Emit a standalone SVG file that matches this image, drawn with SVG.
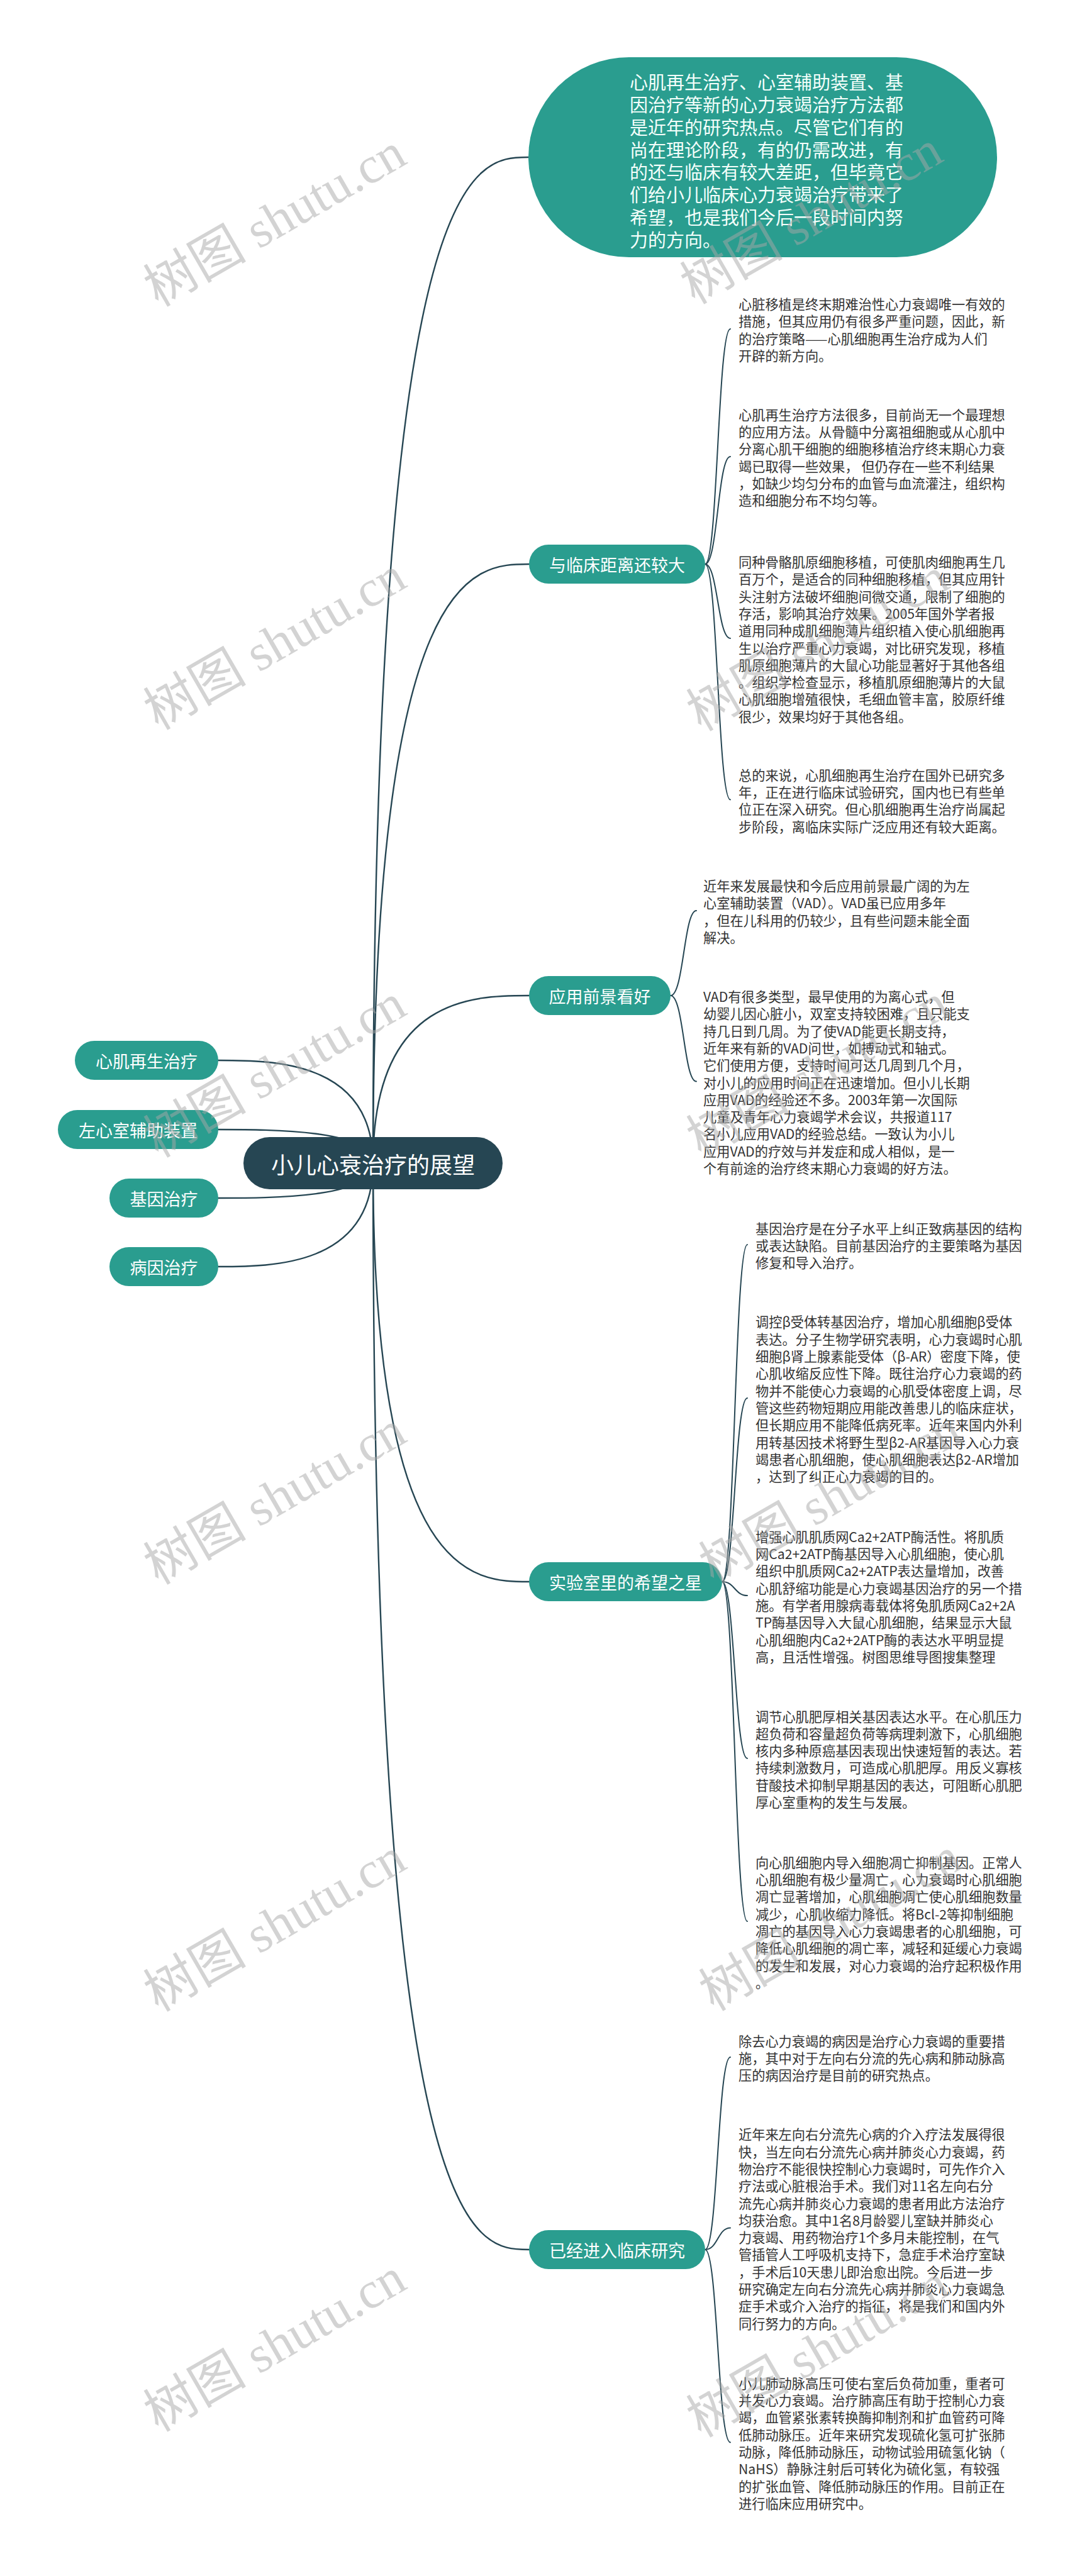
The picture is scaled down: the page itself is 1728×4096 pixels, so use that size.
<svg xmlns="http://www.w3.org/2000/svg" width="1728" height="4096" viewBox="0 0 1728 4096">
<style>
.conn{fill:none;stroke:#264653;stroke-width:2.4;stroke-linecap:round}
.br{fill:none;stroke:#264653;stroke-width:2;stroke-linecap:round}
.teal{fill:#2a9d8f}
.root{fill:#264653}
.lbl{font-family:"Noto Sans CJK SC","Noto Sans",sans-serif;font-size:27px;fill:#ffffff;text-anchor:middle;dominant-baseline:central}
.rlbl{font-family:"Noto Sans CJK SC","Noto Sans",sans-serif;font-size:36px;fill:#ffffff;text-anchor:middle;dominant-baseline:central}
.bub{font-family:"Noto Sans CJK SC","Noto Sans",sans-serif;font-size:29px;fill:#f4fffb;dominant-baseline:central}
.leaf{font-family:"Noto Sans CJK SC","Noto Sans",sans-serif;font-size:21.2px;fill:#333333;dominant-baseline:central}
.wm{font-family:"Liberation Serif","Noto Sans CJK SC",serif;font-size:82px;fill:#a8a8a8;opacity:0.5;text-anchor:middle;dominant-baseline:central}
</style>
<rect width="1728" height="4096" fill="#ffffff"/>
<g id="connectors">
<path class="conn" d="M593 1850 C593 250 754 250 840 250"/>
<path class="conn" d="M593 1850 C593 897 754 897 841 897"/>
<path class="conn" d="M593 1850 C593 1583 754 1583 841 1583"/>
<path class="conn" d="M593 1850 C593 2515 754 2515 841 2515"/>
<path class="conn" d="M593 1850 C593 3577 754 3577 841 3577"/>
<path class="conn" d="M593 1850 C593 1686 433 1686 347 1686"/>
<path class="conn" d="M593 1850 C593 1796 433 1796 347 1796"/>
<path class="conn" d="M593 1850 C593 1905 433 1905 347 1905"/>
<path class="conn" d="M593 1850 C593 2014 433 2014 347 2014"/>
<path class="br" d="M1121 897 C1141 897 1141 523 1161 523"/>
<path class="br" d="M1121 897 C1141 897 1141 726 1161 726"/>
<path class="br" d="M1121 897 C1141 897 1141 1015 1161 1015"/>
<path class="br" d="M1121 897 C1141 897 1141 1271.5 1161 1271.5"/>
<path class="br" d="M1066 1583 C1087 1583 1087 1448 1107 1448"/>
<path class="br" d="M1066 1583 C1087 1583 1087 1719.5 1107 1719.5"/>
<path class="br" d="M1148 2515 C1168 2515 1168 1979 1188 1979"/>
<path class="br" d="M1148 2515 C1168 2515 1168 2223 1188 2223"/>
<path class="br" d="M1148 2515 C1168 2515 1168 2537 1188 2537"/>
<path class="br" d="M1148 2515 C1168 2515 1168 2796 1188 2796"/>
<path class="br" d="M1148 2515 C1168 2515 1168 3055 1188 3055"/>
<path class="br" d="M1121 3577 C1141 3577 1141 3271 1161 3271"/>
<path class="br" d="M1121 3577 C1141 3577 1141 3542.5 1161 3542.5"/>
<path class="br" d="M1121 3577 C1141 3577 1141 3883.4 1161 3883.4"/>
</g>
<g id="node-root">
<rect class="root" x="387" y="1808" width="412" height="83" rx="41.5"/>
<text class="rlbl" x="593" y="1849.5">小儿心衰治疗的展望</text>
</g>
<g id="node-summary">
<rect class="teal" x="840" y="91" width="745" height="318" rx="160" ry="159"/>
<text class="bub" x="1001" y="129"><tspan x="1001" y="129">心肌再生治疗、心室辅助装置、基</tspan><tspan x="1001" dy="35.85">因治疗等新的心力衰竭治疗方法都</tspan><tspan x="1001" dy="35.85">是近年的研究热点。尽管它们有的</tspan><tspan x="1001" dy="35.85">尚在理论阶段，有的仍需改进，有</tspan><tspan x="1001" dy="35.85">的还与临床有较大差距，但毕竟它</tspan><tspan x="1001" dy="35.85">们给小儿临床心力衰竭治疗带来了</tspan><tspan x="1001" dy="35.85">希望，也是我们今后一段时间内努</tspan><tspan x="1001" dy="35.85">力的方向。</tspan></text>
</g>
<g id="node-left-1">
<rect class="teal" x="119" y="1655" width="228" height="62" rx="31"/>
<text class="lbl" x="233" y="1686">心肌再生治疗</text>
</g>
<g id="node-left-2">
<rect class="teal" x="92" y="1765" width="255" height="62" rx="31"/>
<text class="lbl" x="219.5" y="1796">左心室辅助装置</text>
</g>
<g id="node-left-3">
<rect class="teal" x="174" y="1874" width="173" height="62" rx="31"/>
<text class="lbl" x="260.5" y="1905">基因治疗</text>
</g>
<g id="node-left-4">
<rect class="teal" x="174" y="1983" width="173" height="62" rx="31"/>
<text class="lbl" x="260.5" y="2014">病因治疗</text>
</g>
<g id="node-a">
<rect class="teal" x="841" y="866" width="280" height="62" rx="31"/>
<text class="lbl" x="981" y="897">与临床距离还较大</text>
</g>
<g id="node-b">
<rect class="teal" x="841" y="1552" width="225" height="62" rx="31"/>
<text class="lbl" x="953.5" y="1583">应用前景看好</text>
</g>
<g id="node-c">
<rect class="teal" x="841" y="2484" width="307" height="62" rx="31"/>
<text class="lbl" x="994.5" y="2515">实验室里的希望之星</text>
</g>
<g id="node-d">
<rect class="teal" x="841" y="3546" width="280" height="62" rx="31"/>
<text class="lbl" x="981" y="3577">已经进入临床研究</text>
</g>
<g id="leaf-a1"><text class="leaf" x="1174" y="482.1"><tspan x="1174" y="482.1">心脏移植是终末期难治性心力衰竭唯一有效的</tspan><tspan x="1174" dy="27.3">措施，但其应用仍有很多严重问题，因此，新</tspan><tspan x="1174" dy="27.3">的治疗策略——心肌细胞再生治疗成为人们</tspan><tspan x="1174" dy="27.3">开辟的新方向。</tspan></text></g>
<g id="leaf-a2"><text class="leaf" x="1174" y="657.7"><tspan x="1174" y="657.7">心肌再生治疗方法很多，目前尚无一个最理想</tspan><tspan x="1174" dy="27.3">的应用方法。从骨髓中分离祖细胞或从心肌中</tspan><tspan x="1174" dy="27.3">分离心肌干细胞的细胞移植治疗终末期心力衰</tspan><tspan x="1174" dy="27.3">竭已取得一些效果， 但仍存在一些不利结果</tspan><tspan x="1174" dy="27.3">，如缺少均匀分布的血管与血流灌注，组织构</tspan><tspan x="1174" dy="27.3">造和细胞分布不均匀等。</tspan></text></g>
<g id="leaf-a3"><text class="leaf" x="1174" y="892"><tspan x="1174" y="892">同种骨骼肌原细胞移植，可使肌肉细胞再生几</tspan><tspan x="1174" dy="27.3">百万个，是适合的同种细胞移植，但其应用针</tspan><tspan x="1174" dy="27.3">头注射方法破坏细胞间微交通，限制了细胞的</tspan><tspan x="1174" dy="27.3">存活，影响其治疗效果。2005年国外学者报</tspan><tspan x="1174" dy="27.3">道用同种成肌细胞薄片组织植入使心肌细胞再</tspan><tspan x="1174" dy="27.3">生以治疗严重心力衰竭，对比研究发现，移植</tspan><tspan x="1174" dy="27.3">肌原细胞薄片的大鼠心功能显著好于其他各组</tspan><tspan x="1174" dy="27.3">。组织学检查显示，移植肌原细胞薄片的大鼠</tspan><tspan x="1174" dy="27.3">心肌细胞增殖很快，毛细血管丰富，胶原纤维</tspan><tspan x="1174" dy="27.3">很少，效果均好于其他各组。</tspan></text></g>
<g id="leaf-a4"><text class="leaf" x="1174" y="1230.6"><tspan x="1174" y="1230.6">总的来说，心肌细胞再生治疗在国外已研究多</tspan><tspan x="1174" dy="27.3">年，正在进行临床试验研究，国内也已有些单</tspan><tspan x="1174" dy="27.3">位正在深入研究。但心肌细胞再生治疗尚属起</tspan><tspan x="1174" dy="27.3">步阶段，离临床实际广泛应用还有较大距离。</tspan></text></g>
<g id="leaf-b1"><text class="leaf" x="1118" y="1407"><tspan x="1118" y="1407">近年来发展最快和今后应用前景最广阔的为左</tspan><tspan x="1118" dy="27.3">心室辅助装置（VAD）。VAD虽已应用多年</tspan><tspan x="1118" dy="27.3">，但在儿科用的仍较少，且有些问题未能全面</tspan><tspan x="1118" dy="27.3">解决。</tspan></text></g>
<g id="leaf-b2"><text class="leaf" x="1118" y="1583"><tspan x="1118" y="1583">VAD有很多类型，最早使用的为离心式，但</tspan><tspan x="1118" dy="27.3">幼婴儿因心脏小，双室支持较困难，且只能支</tspan><tspan x="1118" dy="27.3">持几日到几周。为了使VAD能更长期支持，</tspan><tspan x="1118" dy="27.3">近年来有新的VAD问世，如搏动式和轴式。</tspan><tspan x="1118" dy="27.3">它们使用方便，支持时间可达几周到几个月，</tspan><tspan x="1118" dy="27.3">对小儿的应用时间正在迅速增加。但小儿长期</tspan><tspan x="1118" dy="27.3">应用VAD的经验还不多。2003年第一次国际</tspan><tspan x="1118" dy="27.3">儿童及青年心力衰竭学术会议，共报道117</tspan><tspan x="1118" dy="27.3">名小儿应用VAD的经验总结。一致认为小儿</tspan><tspan x="1118" dy="27.3">应用VAD的疗效与并发症和成人相似，是一</tspan><tspan x="1118" dy="27.3">个有前途的治疗终末期心力衰竭的好方法。</tspan></text></g>
<g id="leaf-c1"><text class="leaf" x="1201" y="1951.6"><tspan x="1201" y="1951.6">基因治疗是在分子水平上纠正致病基因的结构</tspan><tspan x="1201" dy="27.3">或表达缺陷。目前基因治疗的主要策略为基因</tspan><tspan x="1201" dy="27.3">修复和导入治疗。</tspan></text></g>
<g id="leaf-c2"><text class="leaf" x="1201" y="2100.4"><tspan x="1201" y="2100.4">调控β受体转基因治疗，增加心肌细胞β受体</tspan><tspan x="1201" dy="27.3">表达。分子生物学研究表明，心力衰竭时心肌</tspan><tspan x="1201" dy="27.3">细胞β肾上腺素能受体（β-AR）密度下降，使</tspan><tspan x="1201" dy="27.3">心肌收缩反应性下降。既往治疗心力衰竭的药</tspan><tspan x="1201" dy="27.3">物并不能使心力衰竭的心肌受体密度上调，尽</tspan><tspan x="1201" dy="27.3">管这些药物短期应用能改善患儿的临床症状，</tspan><tspan x="1201" dy="27.3">但长期应用不能降低病死率。近年来国内外利</tspan><tspan x="1201" dy="27.3">用转基因技术将野生型β2-AR基因导入心力衰</tspan><tspan x="1201" dy="27.3">竭患者心肌细胞，使心肌细胞表达β2-AR增加</tspan><tspan x="1201" dy="27.3">，达到了纠正心力衰竭的目的。</tspan></text></g>
<g id="leaf-c3"><text class="leaf" x="1201" y="2441.8"><tspan x="1201" y="2441.8">增强心肌肌质网Ca2+2ATP酶活性。将肌质</tspan><tspan x="1201" dy="27.3">网Ca2+2ATP酶基因导入心肌细胞，使心肌</tspan><tspan x="1201" dy="27.3">组织中肌质网Ca2+2ATP表达量增加，改善</tspan><tspan x="1201" dy="27.3">心肌舒缩功能是心力衰竭基因治疗的另一个措</tspan><tspan x="1201" dy="27.3">施。有学者用腺病毒载体将兔肌质网Ca2+2A</tspan><tspan x="1201" dy="27.3">TP酶基因导入大鼠心肌细胞，结果显示大鼠</tspan><tspan x="1201" dy="27.3">心肌细胞内Ca2+2ATP酶的表达水平明显提</tspan><tspan x="1201" dy="27.3">高，且活性增强。树图思维导图搜集整理</tspan></text></g>
<g id="leaf-c4"><text class="leaf" x="1201" y="2727.5"><tspan x="1201" y="2727.5">调节心肌肥厚相关基因表达水平。在心肌压力</tspan><tspan x="1201" dy="27.3">超负荷和容量超负荷等病理刺激下，心肌细胞</tspan><tspan x="1201" dy="27.3">核内多种原癌基因表现出快速短暂的表达。若</tspan><tspan x="1201" dy="27.3">持续刺激数月，可造成心肌肥厚。用反义寡核</tspan><tspan x="1201" dy="27.3">苷酸技术抑制早期基因的表达，可阻断心肌肥</tspan><tspan x="1201" dy="27.3">厚心室重构的发生与发展。</tspan></text></g>
<g id="leaf-c5"><text class="leaf" x="1201" y="2959.7"><tspan x="1201" y="2959.7">向心肌细胞内导入细胞凋亡抑制基因。正常人</tspan><tspan x="1201" dy="27.3">心肌细胞有极少量凋亡，心力衰竭时心肌细胞</tspan><tspan x="1201" dy="27.3">凋亡显著增加，心肌细胞凋亡使心肌细胞数量</tspan><tspan x="1201" dy="27.3">减少，心肌收缩力降低。将Bcl-2等抑制细胞</tspan><tspan x="1201" dy="27.3">凋亡的基因导入心力衰竭患者的心肌细胞，可</tspan><tspan x="1201" dy="27.3">降低心肌细胞的凋亡率，减轻和延缓心力衰竭</tspan><tspan x="1201" dy="27.3">的发生和发展，对心力衰竭的治疗起积极作用</tspan><tspan x="1201" dy="27.3">。</tspan></text></g>
<g id="leaf-d1"><text class="leaf" x="1174" y="3243.6"><tspan x="1174" y="3243.6">除去心力衰竭的病因是治疗心力衰竭的重要措</tspan><tspan x="1174" dy="27.3">施，其中对于左向右分流的先心病和肺动脉高</tspan><tspan x="1174" dy="27.3">压的病因治疗是目前的研究热点。</tspan></text></g>
<g id="leaf-d2"><text class="leaf" x="1174" y="3392.3"><tspan x="1174" y="3392.3">近年来左向右分流先心病的介入疗法发展得很</tspan><tspan x="1174" dy="27.3">快，当左向右分流先心病并肺炎心力衰竭，药</tspan><tspan x="1174" dy="27.3">物治疗不能很快控制心力衰竭时，可先作介入</tspan><tspan x="1174" dy="27.3">疗法或心脏根治手术。我们对11名左向右分</tspan><tspan x="1174" dy="27.3">流先心病并肺炎心力衰竭的患者用此方法治疗</tspan><tspan x="1174" dy="27.3">均获治愈。其中1名8月龄婴儿室缺并肺炎心</tspan><tspan x="1174" dy="27.3">力衰竭、用药物治疗1个多月未能控制，在气</tspan><tspan x="1174" dy="27.3">管插管人工呼吸机支持下，急症手术治疗室缺</tspan><tspan x="1174" dy="27.3">，手术后10天患儿即治愈出院。今后进一步</tspan><tspan x="1174" dy="27.3">研究确定左向右分流先心病并肺炎心力衰竭急</tspan><tspan x="1174" dy="27.3">症手术或介入治疗的指征，将是我们和国内外</tspan><tspan x="1174" dy="27.3">同行努力的方向。</tspan></text></g>
<g id="leaf-d3"><text class="leaf" x="1174" y="3787.8"><tspan x="1174" y="3787.8">小儿肺动脉高压可使右室后负荷加重，重者可</tspan><tspan x="1174" dy="27.3">并发心力衰竭。治疗肺高压有助于控制心力衰</tspan><tspan x="1174" dy="27.3">竭，血管紧张素转换酶抑制剂和扩血管药可降</tspan><tspan x="1174" dy="27.3">低肺动脉压。近年来研究发现硫化氢可扩张肺</tspan><tspan x="1174" dy="27.3">动脉，降低肺动脉压，动物试验用硫氢化钠（</tspan><tspan x="1174" dy="27.3">NaHS）静脉注射后可转化为硫化氢，有较强</tspan><tspan x="1174" dy="27.3">的扩张血管、降低肺动脉压的作用。目前正在</tspan><tspan x="1174" dy="27.3">进行临床应用研究中。</tspan></text></g>
<g id="watermarks">
<text class="wm" transform="translate(437,350) rotate(-30)">树图 shutu.cn</text>
<text class="wm" transform="translate(1290,346) rotate(-30)">树图 shutu.cn</text>
<text class="wm" transform="translate(437,1023) rotate(-30)">树图 shutu.cn</text>
<text class="wm" transform="translate(1300,1025) rotate(-30)">树图 shutu.cn</text>
<text class="wm" transform="translate(437,1703) rotate(-30)">树图 shutu.cn</text>
<text class="wm" transform="translate(1300,1703) rotate(-30)">树图 shutu.cn</text>
<text class="wm" transform="translate(437,2382) rotate(-30)">树图 shutu.cn</text>
<text class="wm" transform="translate(1320,2381) rotate(-30)">树图 shutu.cn</text>
<text class="wm" transform="translate(437,3061) rotate(-30)">树图 shutu.cn</text>
<text class="wm" transform="translate(1320,3060) rotate(-30)">树图 shutu.cn</text>
<text class="wm" transform="translate(437,3729) rotate(-30)">树图 shutu.cn</text>
<text class="wm" transform="translate(1300,3738) rotate(-30)">树图 shutu.cn</text>
</g>
</svg>
